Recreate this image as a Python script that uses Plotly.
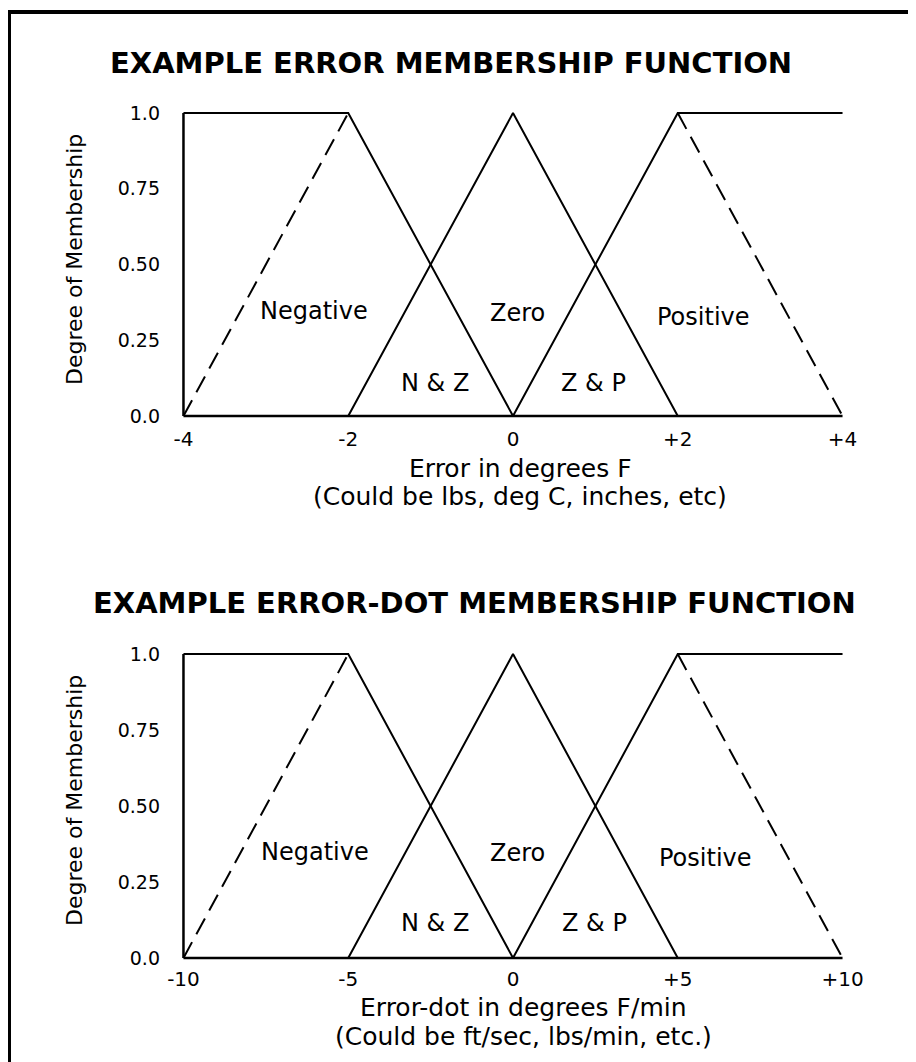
import plotly.graph_objects as go

# ---------------- data ----------------
# top chart: error (deg F)
err_ticks = [-4, -2, 0, 2, 4]
err_tick_text = ["-4", "-2", "0", "+2", "+4"]
# bottom chart: error-dot (deg F / min)
dot_ticks = [-10, -5, 0, 5, 10]
dot_tick_text = ["-10", "-5", "0", "+5", "+10"]

y_ticks = [0.0, 0.25, 0.5, 0.75, 1.0]
y_tick_text = ["0.0", "0.25", "0.50", "0.75", "1.0"]

# membership shapes, expressed as tick indices (breakpoints) and membership values
neg_solid_idx = [0, 1, 2]
neg_solid_val = [1.0, 1.0, 0.0]
neg_dash_idx = [0, 1]
neg_dash_val = [0.0, 1.0]
zero_idx = [1, 2, 3]
zero_val = [0.0, 1.0, 0.0]
pos_solid_idx = [2, 3, 4]
pos_solid_val = [0.0, 1.0, 1.0]
pos_dash_idx = [3, 4]
pos_dash_val = [1.0, 0.0]

region_labels = ["Negative", "Zero", "Positive", "N &amp; Z", "Z &amp; P"]
err_label_x = [-2.42, 0.05, 2.31, -0.95, 0.98]
dot_label_x = [-6.0, 0.14, 5.83, -2.38, 2.46]
label_y_top = [0.347, 0.34, 0.327, 0.109, 0.109]
label_y_bot = [0.349, 0.346, 0.33, 0.115, 0.115]

titles = ["EXAMPLE ERROR MEMBERSHIP FUNCTION", "EXAMPLE ERROR-DOT MEMBERSHIP FUNCTION"]
x_titles = [["Error in degrees F", "(Could be lbs, deg C, inches, etc)"],
            ["Error-dot in degrees F/min", "(Could be ft/sec, lbs/min, etc.)"]]
y_title = "Degree of Membership"

# ---------------- figure ----------------
W, H = 916, 1062
OFF = 8  # page body margin
FONT = "DejaVu Sans"


def px_x(px):
    return (px - OFF) / W


def px_y(py):
    return 1 - (py - OFF) / H


fig = go.Figure()


def pick(ticks, idx):
    return [ticks[i] for i in idx]


panels = [
    dict(ticks=err_ticks, lx=err_label_x, ly=label_y_top, xa="x", ya="y"),
    dict(ticks=dot_ticks, lx=dot_label_x, ly=label_y_bot, xa="x2", ya="y2"),
]

solid = dict(color="black", width=2)
dashed = dict(color="black", width=2, dash="18px,9px")

for p in panels:
    t = p["ticks"]
    common = dict(mode="lines", xaxis=p["xa"], yaxis=p["ya"], showlegend=False,
                  hoverinfo="skip")
    # axes lines
    fig.add_trace(go.Scatter(x=[t[0], t[-1]], y=[0, 0],
                             line=dict(color="black", width=2.5), **common))
    fig.add_trace(go.Scatter(x=[t[0], t[0]], y=[0, 1],
                             line=dict(color="black", width=2.5), **common))
    fig.add_trace(go.Scatter(x=pick(t, neg_solid_idx), y=neg_solid_val, line=solid, **common))
    fig.add_trace(go.Scatter(x=pick(t, neg_dash_idx), y=neg_dash_val, line=dashed, **common))
    fig.add_trace(go.Scatter(x=pick(t, zero_idx), y=zero_val, line=solid, **common))
    fig.add_trace(go.Scatter(x=pick(t, pos_solid_idx), y=pos_solid_val, line=solid, **common))
    fig.add_trace(go.Scatter(x=pick(t, pos_dash_idx), y=pos_dash_val, line=dashed, **common))
    for txt, x, y in zip(region_labels, p["lx"], p["ly"]):
        fig.add_annotation(x=x, y=y, xref=p["xa"], yref=p["ya"], text=txt,
                           showarrow=False, font=dict(family=FONT, size=24, color="black"))

# plot areas (reference pixels): x from ~181 to ~845, top panel y 107..419, bottom 648..961
xdom = [px_x(181), px_x(845)]
axis_common = dict(showgrid=False, zeroline=False, showline=False, ticks="",
                   automargin=False, tickfont=dict(family=FONT, size=20, color="black"))
ytick_font = dict(family=FONT, size=19, color="black")
fig.update_layout(
    template="none",
    width=W, height=H, margin=dict(l=0, r=0, t=0, b=0, autoexpand=False),
    paper_bgcolor="white", plot_bgcolor="white",
    xaxis=dict(domain=xdom, range=[-4.03, 4.03], tickvals=err_ticks, ticktext=err_tick_text,
               anchor="y", ticklabelstandoff=6, **axis_common),
    yaxis=dict(domain=[px_y(419), px_y(107)], range=[-0.01, 1.02], tickvals=y_ticks,
               ticktext=y_tick_text, anchor="x", ticklabelstandoff=20,
               **{**axis_common, "tickfont": ytick_font}),
    xaxis2=dict(domain=xdom, range=[-10.075, 10.075], tickvals=dot_ticks, ticktext=dot_tick_text,
                anchor="y2", ticklabelstandoff=4, **axis_common),
    yaxis2=dict(domain=[px_y(961), px_y(648)], range=[-0.01, 1.02], tickvals=y_ticks,
                ticktext=y_tick_text, anchor="x2", ticklabelstandoff=20,
                **{**axis_common, "tickfont": ytick_font}),
)

# titles
for txt, cx, cy in zip(titles, [451, 474], [63, 603]):
    fig.add_annotation(x=px_x(cx), y=px_y(cy), xref="paper", yref="paper", text="<b>%s</b>" % txt,
                       showarrow=False, xanchor="center", yanchor="middle",
                       font=dict(family=FONT, size=29, color="black"))
# x-axis titles (two lines)
for lines, cx, cys in zip(x_titles, [520, 523], [[468, 496], [1008, 1036]]):
    for txt, cy in zip(lines, cys):
        fig.add_annotation(x=px_x(cx), y=px_y(cy), xref="paper", yref="paper", text=txt,
                           showarrow=False, xanchor="center", yanchor="middle",
                           font=dict(family=FONT, size=25, color="black"))
# y-axis titles
for cy in [260, 801]:
    fig.add_annotation(x=px_x(74), y=px_y(cy), xref="paper", yref="paper", text=y_title,
                       showarrow=False, textangle=-90, xanchor="center", yanchor="middle",
                       font=dict(family=FONT, size=22, color="black"))

# frame (top and left border)
ytop = px_y(12)
xleft = px_x(9)
fig.add_shape(type="line", xref="paper", yref="paper", x0=xleft, x1=1, y0=ytop, y1=ytop,
              line=dict(color="black", width=4), layer="above")
fig.add_shape(type="line", xref="paper", yref="paper", x0=xleft, x1=xleft, y0=0, y1=ytop + 2 / H,
              line=dict(color="black", width=4), layer="above")

fig.write_html("out.html")
